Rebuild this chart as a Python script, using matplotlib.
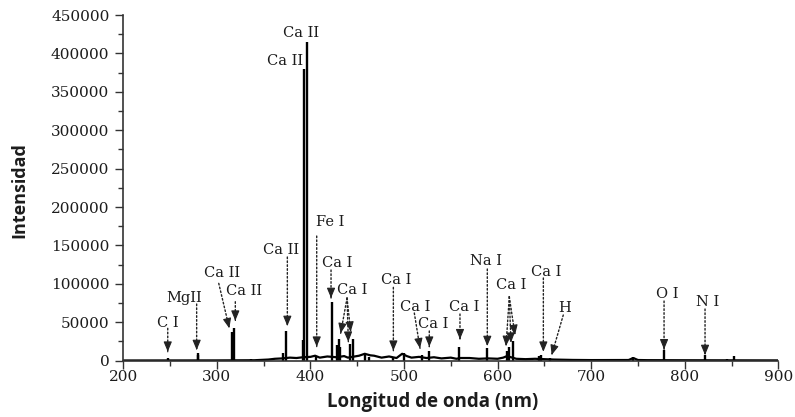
import matplotlib.pyplot as plt
from matplotlib.ticker import MultipleLocator

# emission lines: wavelength (nm) and peak intensity
line_nm = [247.9, 279.6, 280.3, 315.9, 317.0, 317.9, 336.2, 370.4, 373.7,
           391.8, 393.4, 396.8, 406.0, 422.7, 428.9, 430.3, 431.9, 442.5,
           445.5, 458.6, 462.5, 487.8, 500.0, 518.9, 527.0, 558.9, 589.0,
           610.3, 612.2, 616.2, 643.9, 646.3, 656.3, 717.0, 720.0, 745.0,
           777.4, 821.6, 845.0, 853.0]
line_int = [3000, 10000, 7000, 38000, 15000, 42000, 2500, 10000, 39000,
            27000, 380000, 415000, 6000, 77000, 20000, 28000, 18000, 22000,
            28000, 7000, 5000, 5000, 10000, 8000, 12000, 18000, 16000,
            12000, 18000, 25000, 6000, 8000, 3000, 2000, 2000, 5000,
            14000, 8000, 2000, 6000]

# continuum / background
base_nm = [200, 300, 340, 355, 362, 370, 378, 385, 392, 400, 405, 410, 418,
           428, 436, 440, 452, 458, 464, 468, 476, 484, 492, 498, 503, 508,
           516, 524, 532, 540, 550, 556, 560, 570, 580, 590, 600, 606, 610,
           620, 630, 640, 650, 660, 680, 700, 740, 745, 750, 760, 800, 850,
           900]
base_int = [300, 400, 600, 1500, 2500, 3000, 4000, 3500, 4500, 5000, 6500,
            4000, 5500, 4500, 6000, 4000, 6500, 9000, 7000, 6500, 4000, 5500,
            3500, 9000, 6000, 4000, 5000, 3500, 4500, 3000, 4000, 2500, 3500,
            3500, 2500, 3000, 2500, 4000, 6000, 2500, 2000, 2500, 2000, 1500,
            1000, 800, 900, 3500, 900, 700, 600, 500, 400]

# labels: text, position of the text
labels = ["Ca II", "Ca II", "Fe I", "Ca II", "Ca I", "Ca I", "Ca II", "Ca II",
          "MgII", "C I", "Ca I", "Ca I", "Ca I", "Ca I", "Na I", "Ca I",
          "Ca I", "H", "O I", "N I"]
label_xy = [(390.4, 426600), (372.8, 390500), (420.9, 180900),
            (368.5, 144100), (428.4, 127600), (444.4, 92000),
            (305.5, 114500), (329.0, 91100), (264.9, 81200), (247.8, 49500),
            (491.4, 105000), (511.7, 69500), (531.0, 47800), (564.1, 69500),
            (587.6, 129800), (614.9, 98500), (652.3, 115900), (671.5, 68200),
            (781.1, 86400), (824.9, 76800)]

# dotted arrows: start -> tip
arrows = [((406.7, 162300), (406.7, 18200)),
          ((375.3, 135000), (375.3, 45200)),
          ((422.0, 118100), (422.0, 81600)),
          ((439.1, 81600), (432.3, 35700)),
          ((439.1, 81600), (440.5, 24700)),
          ((439.1, 81600), (443.0, 37700)),
          ((302.0, 100700), (313.3, 42200)),
          ((319.7, 76800), (319.7, 52100)),
          ((278.4, 73800), (278.4, 13900)),
          ((247.5, 42200), (247.5, 11700)),
          ((488.6, 95500), (488.6, 13000)),
          ((511.0, 62100), (517.1, 16100)),
          ((527.0, 38700), (527.0, 18200)),
          ((559.8, 60800), (559.8, 27900)),
          ((589.0, 119400), (589.0, 19100)),
          ((612.5, 83300), (609.0, 19100)),
          ((612.5, 83300), (614.3, 23400)),
          ((612.5, 83300), (618.6, 33500)),
          ((648.9, 107700), (648.9, 11700)),
          ((670.2, 59500), (657.8, 7400)),
          ((777.9, 77700), (777.9, 14800)),
          ((821.7, 67300), (821.7, 7400))]

txt = "#1c1c1c"
serif = "DejaVu Serif"

fig = plt.figure(figsize=(7.95, 4.17), dpi=100)
ax = fig.add_axes([0.1551, 0.135, 0.979 - 0.1551, 0.964 - 0.135])

ax.plot(base_nm, base_int, color="black", lw=1.6)
ax.vlines(line_nm, 0, line_int, color="black", lw=1.7)

for (x0, y0), (x1, y1) in arrows:
    # dotted shaft
    ax.annotate("", xy=(x1, y1), xytext=(x0, y0),
                arrowprops=dict(arrowstyle="-", linestyle=(0, (1.2, 1.6)),
                                color="#222222", lw=1.0,
                                shrinkA=0, shrinkB=0))
    # solid head pointing along the shaft
    ax.annotate("", xy=(x1, y1),
                xytext=(x1 - 0.05 * (x1 - x0), y1 - 0.05 * (y1 - y0)),
                arrowprops=dict(arrowstyle="-|>,head_length=0.6,head_width=0.25",
                                color="#222222", lw=0.8, mutation_scale=10,
                                shrinkA=0, shrinkB=0))

for s, (x, y) in zip(labels, label_xy):
    ax.text(x, y, s, ha="center", va="center", fontsize=10.5,
            family=serif, color=txt)

ax.set_xlim(200, 900)
ax.set_ylim(0, 450000)
ax.xaxis.set_major_locator(MultipleLocator(100))
ax.xaxis.set_minor_locator(MultipleLocator(50))
ax.yaxis.set_major_locator(MultipleLocator(50000))
ax.yaxis.set_minor_locator(MultipleLocator(25000))
ax.tick_params(which="major", length=6, width=1, direction="out",
               labelsize=11, colors="#333333", labelcolor=txt)
ax.tick_params(which="minor", length=3.5, width=1, direction="out",
               colors="#333333")
ax.tick_params(axis="x", which="major", pad=1)
ax.tick_params(axis="y", which="major", pad=4)
for lab in ax.get_xticklabels() + ax.get_yticklabels():
    lab.set_family(serif)

for side in ["top", "right"]:
    ax.spines[side].set_visible(False)
for side in ["left", "bottom"]:
    ax.spines[side].set_linewidth(1.2)
    ax.spines[side].set_color("#333333")

ax.set_xlabel("Longitud de onda (nm)", family="Open Sans", weight="bold",
              fontsize=13.5, color=txt)
ax.set_ylabel("Intensidad", family="Open Sans", weight="bold",
              fontsize=13, color=txt)
ax.xaxis.set_label_coords(0.4715, -0.09)
ax.yaxis.set_label_coords(-0.145, 0.495)

fig.savefig("out.png", dpi=100)
